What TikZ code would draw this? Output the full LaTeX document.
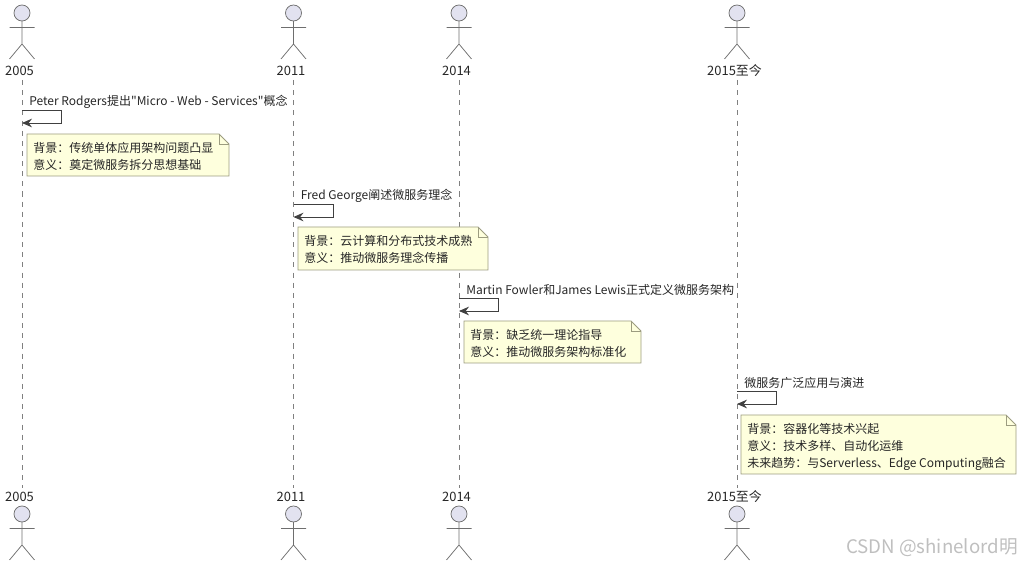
\documentclass[tikz,border=0pt]{standalone}
\usepackage{fontspec}
\setmainfont{Noto Sans CJK SC}
\newfontfamily\plainsc{Noto Sans CJK SC}
\usepackage{xcolor}
\usetikzlibrary{arrows.meta, positioning, calc}

\definecolor{headfill}{HTML}{E2E2F0}
\definecolor{notefill}{HTML}{FEFFDD}
\definecolor{noteline}{HTML}{9C9C80}
\definecolor{inkline}{HTML}{6E6E6E}

\begin{document}
\begin{tikzpicture}[
            font=\plainsc\fontsize{9}{12.75}\selectfont,
            >={Stealth[length=7.5pt, width=6.5pt, inset=2.5pt]},
            actorline/.style={draw=inkline, line width=0.55pt},
            head/.style     ={actorline, fill=headfill},
            lifeline/.style ={draw=black!50, line width=0.6pt, dash pattern=on 3.8pt off 3.8pt},
            selfmsg/.style  ={->, draw=black!75, line width=0.7pt},
            who/.style      ={inner sep=0pt, text=black!85, font=\plainsc\fontsize{9.7}{11}\selectfont},
            msg/.style      ={inner sep=0pt, anchor=west, text=black!85},
            notebox/.style  ={inner sep=0pt, anchor=north west, align=left, text=black!85},
            shape note/.style={draw=noteline, fill=notefill, line width=0.6pt},
            x=0.75pt, y=-0.75pt
        ]
        \useasboundingbox (0,0) rectangle (1022,566);

        % the people: name top and bottom, one lifeline between the names
        \foreach \nm/\xx/\txt in {a/22/2005, b/293.5/2011, c/459/2014, d/737/2015至今}{
            \node[who] (top\nm) at (\xx-2.5,71) {\txt};
            \node[who] (bot\nm) at (\xx-2.5,497) {\txt};
            \coordinate (\nm up) at (\xx,80);
            \coordinate (\nm dn) at (\xx,488);
            \draw[lifeline] (\nm up) -- (\nm dn);
            \foreach \yy in {13,514}{
                \draw[head] (\xx,\yy) circle (8);
                \draw[actorline] (\xx,\yy+8) -- (\xx,\yy+31)
                                 (\xx-12.5,\yy+14.5) -- (\xx+12.5,\yy+14.5)
                                 (\xx-12.5,\yy+46) -- (\xx,\yy+31) -- (\xx+12.5,\yy+46);
            }
        }

        % self messages
        \foreach \nm/\xx/\ya/\txt in {
            m/22/110/{Peter Rodgers提出"Micro - Web - Services"概念},
            n/293.5/204/{Fred George阐述微服务理念},
            o/459/298/{Martin Fowler和James Lewis正式定义微服务架构},
            p/737/391/{微服务广泛应用与演进}}{
            \coordinate (\nm from) at (\xx,\ya);
            \coordinate (\nm to) at (\xx,\ya+13);
            \draw[selfmsg] (\nm from) -- ++(39.5,0) |- (\nm to);
            \node[msg] (\nm lbl) at (\xx+7,\ya-8.5) {\txt};
        }

        % notes, the shape goes in first so the text stays on top
        \foreach \nm/\xa/\ya/\bw/\bh/\txt in {
            q/27/134/202/42/{背景：传统单体应用架构问题凸显\\意义：奠定微服务拆分思想基础},
            r/298/227/190/43/{背景：云计算和分布式技术成熟\\意义：推动微服务理念传播},
            s/464/321/177/42/{背景：缺乏统一理论指导\\意义：推动微服务架构标准化},
            t/741/415/275/59/{背景：容器化等技术兴起\\意义：技术多样、自动化运维\\未来趋势：与Serverless、Edge Computing融合}}{
            \coordinate (\nm nw) at (\xa,\ya);
            \coordinate (\nm se) at (\xa+\bw,\ya+\bh);
            \draw[shape note] (\nm nw) -- (\xa+\bw-10,\ya) -- (\xa+\bw,\ya+10)
                              -- (\nm se) -- (\xa,\ya+\bh) -- cycle;
            \draw[shape note, fill=none] (\xa+\bw-10,\ya) -- (\xa+\bw-10,\ya+10) -- (\xa+\bw,\ya+10);
            \node[notebox] (\nm txt) at (\xa+6,\ya+8) {\txt};
        }

        \node[inner sep=0pt, anchor=east, text=black!25, font=\plainsc\fontsize{14}{16}\selectfont] (mark) at (1018,548) {CSDN @shinelord明};
    \end{tikzpicture}
\end{document}
